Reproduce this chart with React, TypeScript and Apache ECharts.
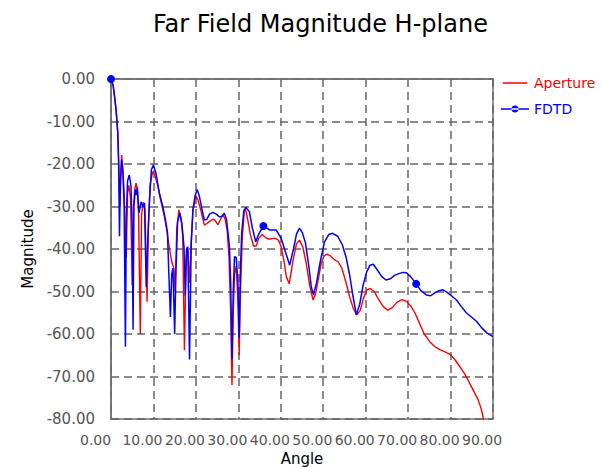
import React, { useEffect, useRef } from "react";
import * as echarts from "echarts";

const titleText = "Far Field Magnitude H-plane";
const xTicks = [0, 90, 10];
const yTicks = [-80, 0, 10];

const apertureAngle = [
  0, 0.5, 0.8, 1.2, 1.6, 1.9, 2.1, 2.5, 2.8, 3.1, 3.6, 3.9, 4.2, 4.6, 5.0, 5.3, 5.6, 5.9, 6.2, 6.5,
  6.9, 7.2, 7.6, 8.0, 8.5, 8.8, 9.2, 9.8, 10.3, 11.0, 11.8, 12.5, 13.2, 13.8, 14.3, 14.8, 15.1, 15.5, 16.0, 16.5,
  16.9, 17.3, 17.7, 18.1, 18.5, 18.9, 19.3, 20.0, 20.5, 21.2, 22.0, 22.6, 23.2, 24.0, 24.5, 25.2, 25.8, 26.4, 26.9, 27.4,
  27.8, 28.2, 28.5, 28.8, 29.1, 29.5, 29.9, 30.2, 30.5, 30.9, 31.4, 31.7, 32.2, 32.8, 33.6, 34.2, 34.8, 35.6, 36.4, 37.2,
  38.0, 38.8, 39.5, 40.1, 40.7, 41.3, 42.0, 42.9, 43.7, 44.4, 45.2, 46.0, 46.8, 47.6, 48.2, 48.8, 49.5, 50.2, 50.9, 51.7,
  52.6, 53.5, 54.4, 55.4, 56.3, 57.1, 57.9, 58.7, 59.5, 60.3, 61.1, 62.0, 63.0, 64.1, 65.2, 66.3, 67.4, 68.6, 69.6, 70.6,
  71.6, 72.6, 73.8, 75.1, 76.3, 77.5, 78.7, 79.9, 81.0, 82.2, 83.4, 84.5, 85.5, 86.5, 87.2, 87.8, 88.3,
];
const apertureMag = [
  0, -1.5, -3.8, -7.3, -12.7, -22, -30, -17.9, -21, -27, -42, -27, -25, -28, -48.5, -30, -26, -24.5, -26, -32,
  -60, -32, -29, -31, -52.4, -35, -25, -21.8, -22.5, -25, -28.9, -32, -36, -40, -43, -44.5, -50, -35, -30.8, -33,
  -37, -63.8, -42, -40, -48, -38, -31, -27.5, -28.5, -31, -34.4, -34, -33.5, -33, -33.2, -34.3, -33, -32, -33, -36,
  -42, -55, -72, -55, -46, -44, -52, -65, -50, -38, -31, -30.6, -33, -36.5, -39.3, -39.3, -37.5, -36.6, -37.3, -37.7,
  -37.5, -37.5, -38, -39.5, -42.5, -46.5, -48.2, -42.6, -38.8, -37.9, -39.5, -43.4, -48.5, -52, -50.5, -47.3, -43.5, -41.6, -41.2, -41.6,
  -42.5, -43, -44.5, -48, -51.5, -54, -55.5, -54.5, -51.5, -49.6, -49.3, -50, -51.8, -53.5, -54.4, -53.8, -52.5, -51.9, -52.3, -53.4,
  -55, -57.3, -60, -61.8, -63, -63.7, -64.2, -64.8, -66, -67.7, -69.5, -71.6, -73.5, -75.5, -77.5, -80.2, -82,
];

const fdtdAngle = [
  0, 0.5, 0.8, 1.2, 1.6, 1.8, 2.0, 2.2, 2.5, 2.8, 3.1, 3.4, 3.6, 3.9, 4.3, 4.7, 5.0, 5.2, 5.4, 5.7,
  6.0, 6.2, 6.6, 7.1, 7.5, 7.9, 8.3, 8.7, 9.1, 9.5, 10.0, 10.6, 11.4, 12.2, 12.8, 13.3, 13.6, 14.0, 14.3, 14.6,
  15.0, 15.3, 15.7, 16.2, 16.7, 17.2, 17.5, 17.8, 18.1, 18.5, 18.9, 19.3, 19.8, 20.3, 20.8, 21.4, 22.0, 22.6, 23.2, 24.0,
  24.8, 25.5, 26.0, 26.7, 27.2, 27.6, 27.9, 28.2, 28.5, 28.8, 29.1, 29.5, 29.9, 30.2, 30.5, 30.8, 31.3, 31.8, 32.6, 33.3,
  34.1, 34.8, 35.9, 37.4, 38.9, 40.1, 41.2, 42.1, 43.0, 43.7, 44.4, 45.1, 45.8, 46.6, 47.2, 47.7, 48.4, 49.3, 50.3, 51.3,
  52.2, 53.4, 54.5, 55.4, 56.2, 57.0, 57.8, 58.6, 59.4, 60.2, 61.0, 61.8, 62.8, 63.8, 64.8, 65.8, 66.8, 67.8, 68.8, 69.6,
  70.6, 71.9, 73.0, 74.3, 75.3, 76.3, 77.3, 78.2, 79.2, 80.2, 81.4, 82.5, 83.7, 84.9, 86.1, 87.3, 88.6, 90,
];
const fdtdMag = [
  0, -1.5, -3.8, -7.3, -12.7, -20, -37, -24, -19, -22, -30, -63, -33, -24, -22.6, -25, -35, -59, -30, -26,
  -27.3, -25.5, -31.5, -28.9, -30, -29.2, -49, -37, -28, -21.4, -20.2, -22.2, -26.9, -30, -33, -36, -45, -56, -46, -44.5,
  -60, -45, -33.6, -31.5, -34, -39.5, -51, -40, -39.5, -66, -39, -30.8, -27.5, -26, -27.5, -30.5, -33.2, -33, -31.8, -31.4,
  -31.8, -32.4, -32.4, -31.6, -33, -36.5, -39.5, -48, -66, -50, -41.8, -42, -48, -61, -45, -36, -31, -30.2, -31.2, -35,
  -38.3, -36.5, -34.6, -35.5, -35.5, -37.5, -41, -43.8, -40, -36.5, -35.1, -36.2, -38.5, -44, -49, -50.8, -48.1, -43, -38.3, -36.6,
  -36.3, -37, -39, -42, -46, -51, -55.5, -53, -48.5, -45.5, -43.8, -43.6, -45, -46.5, -47.3, -47, -46.2, -45.8, -45.5, -45.6,
  -46.5, -48.2, -49.8, -50.8, -51, -50.3, -49.8, -49.6, -50.2, -51, -52, -53.5, -55, -56, -57, -58.5, -59.8, -60.6,
];
const fdtdMarkedAngles = [0, 35.9, 71.9];

const FONT = "DejaVu Sans";
const LINE_ICON = "path://M0,2.75H28V4.25H0Z M30,0V0.01H30.01Z M-2,7V7.01H-1.99Z";
const DOT_ICON = "path://M0,2.75H28V4.25H0Z M10.5,3.5a3.5,3.5 0 1,0 7,0a3.5,3.5 0 1,0 -7,0Z";

export default function App() {
  const ref = useRef<HTMLDivElement>(null);
  useEffect(() => {
    if (!ref.current) return;
    const chart = echarts.init(ref.current, null, { renderer: "svg" });
    const apertureData = apertureAngle.map((a, i) => [a, apertureMag[i]]);
    const fdtdData = fdtdAngle.map((a, i) =>
      fdtdMarkedAngles.includes(a)
        ? { value: [a, fdtdMag[i]] }
        : { value: [a, fdtdMag[i]], symbol: "none" }
    );
    const fmt = (v: number) => v.toFixed(2);
    chart.setOption({
      animation: false,
      backgroundColor: "#ffffff",
      title: {
        text: titleText,
        left: 148,
        top: 7,
        textStyle: { fontFamily: FONT, fontSize: 24, fontWeight: "normal", color: "#000" },
      },
      legend: {
        orient: "vertical",
        left: 496,
        top: 71,
        itemWidth: 28,
        itemHeight: 14,
        itemGap: 12,
        textStyle: { fontFamily: FONT, fontSize: 14 },
        data: [
          { name: "Aperture", icon: LINE_ICON, textStyle: { color: "#ff0000" } },
          { name: "FDTD", icon: DOT_ICON, textStyle: { color: "#0000ff" } },
        ],
      },
      grid: {
        left: 111,
        right: 109,
        top: 79,
        bottom: 48,
        containLabel: false,
        outerBoundsMode: "none",
        show: true,
        borderColor: "#707070",
        borderWidth: 1.5,
      },
      xAxis: {
        type: "value",
        min: xTicks[0],
        max: xTicks[1],
        interval: xTicks[2],
        name: "Angle",
        nameLocation: "middle",
        nameGap: 29,
        nameTextStyle: { fontFamily: FONT, fontSize: 15, color: "#000" },
        axisLine: { show: true, lineStyle: { color: "#707070", width: 1.5 } },
        axisTick: { show: false },
        axisLabel: {
          formatter: fmt,
          fontFamily: FONT,
          fontSize: 14,
          color: "#555",
          margin: 14,
          align: "left",
          padding: [0, 0, 0, -31],
          showMinLabel: true,
          showMaxLabel: true,
          hideOverlap: false,
        },
        splitLine: { show: true, lineStyle: { color: "#666", width: 1.5, type: [8, 5] } },
      },
      yAxis: {
        type: "value",
        min: yTicks[0],
        max: yTicks[1],
        interval: yTicks[2],
        name: "Magnitude",
        nameLocation: "middle",
        nameGap: 76,
        nameTextStyle: { fontFamily: FONT, fontSize: 15, color: "#000" },
        axisLine: { show: true, lineStyle: { color: "#707070", width: 1.5 } },
        axisTick: { show: false },
        axisLabel: {
          formatter: fmt,
          fontFamily: FONT,
          fontSize: 15,
          color: "#555",
          margin: 16,
          showMinLabel: true,
          showMaxLabel: true,
        },
        splitLine: { show: true, lineStyle: { color: "#666", width: 1.5, type: [8, 5] } },
      },
      series: [
        {
          name: "Aperture",
          type: "line",
          data: apertureData,
          symbol: "none",
          lineStyle: { color: "#ff0000", width: 1.4 },
          itemStyle: { color: "#ff0000" },
          clip: true,
        },
        {
          name: "FDTD",
          type: "line",
          data: fdtdData,
          symbol: "circle",
          symbolSize: 8,
          showSymbol: true,
          showAllSymbol: true,
          lineStyle: { color: "#0000ff", width: 1.5 },
          itemStyle: { color: "#0000ff" },
          clip: true,
        },
      ],
    });
    return () => chart.dispose();
  }, []);
  return (
    <div
      ref={ref}
      style={{ position: "fixed", left: 0, top: 0, width: 602, height: 467, background: "#fff" }}
    />
  );
}
